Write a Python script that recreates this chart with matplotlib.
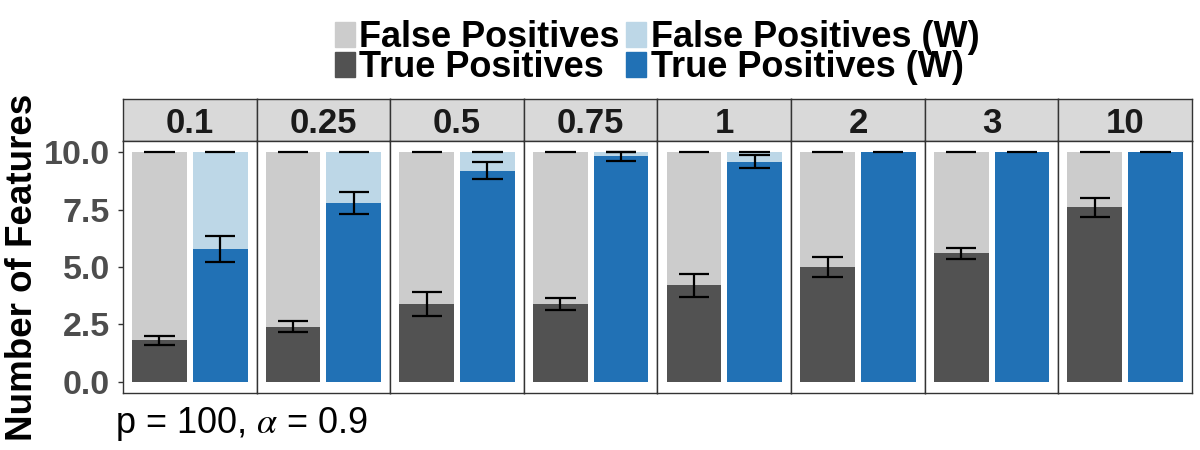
import numpy as np
import matplotlib
matplotlib.use("Agg")
import matplotlib.pyplot as plt
from matplotlib.patches import Patch

plt.rcParams["font.family"] = ["Liberation Sans", "DejaVu Sans"]
plt.rcParams["mathtext.fontset"] = "stix"

# weights (facets) and mean / sd of selected features out of 10
weights = ["0.1", "0.25", "0.5", "0.75", "1", "2", "3", "10"]
total = [10, 10, 10, 10, 10, 10, 10, 10]
tp = [1.8, 2.4, 3.4, 3.4, 4.2, 5.0, 5.6, 7.6]
tp_sd = [0.2, 0.25, 0.52, 0.26, 0.5, 0.45, 0.24, 0.4]
tp_w = [5.8, 7.8, 9.2, 9.83, 9.6, 10, 10, 10]
tp_w_sd = [0.57, 0.49, 0.37, 0.2, 0.27, 0, 0, 0]

col_fp = "#CCCCCC"
col_tp = "#525252"
col_fp_w = "#BDD7E7"
col_tp_w = "#2171B5"
edge = "#333333"

fig = plt.figure(figsize=(12, 4.5), dpi=100)
gs = fig.add_gridspec(2, len(weights), height_ratios=[42, 252],
                      left=123 / 1200, right=1192 / 1200,
                      top=1 - 99 / 450, bottom=1 - 393 / 450,
                      hspace=0, wspace=0)

for i, w in enumerate(weights):
    # strip on top
    sax = fig.add_subplot(gs[0, i])
    sax.set_facecolor("#D9D9D9")
    sax.set_xticks([])
    sax.set_yticks([])
    for s in sax.spines.values():
        s.set_color(edge)
        s.set_linewidth(1.0)
    sax.text(0.5, 0.42, w, transform=sax.transAxes, ha="center", va="center",
             fontsize=25, fontweight="bold", color="#1A1A1A")

    ax = fig.add_subplot(gs[1, i])
    x = np.array([1, 2])
    ax.bar(x[0], total[i], width=0.9, color=col_fp)
    ax.bar(x[0], tp[i], width=0.9, color=col_tp)
    ax.bar(x[1], total[i], width=0.9, color=col_fp_w)
    ax.bar(x[1], tp_w[i], width=0.9, color=col_tp_w)

    # error bars (total has zero spread)
    for xx, m, sd in [(x[0], tp[i], tp_sd[i]), (x[1], tp_w[i], tp_w_sd[i])]:
        ax.hlines(total[i], xx - 0.25, xx + 0.25, color="black", lw=1.6)
        if sd > 0:
            ax.hlines([m - sd, m + sd], xx - 0.25, xx + 0.25, color="black", lw=1.6)
            ax.vlines(xx, m - sd, m + sd, color="black", lw=1.6)

    ax.set_xlim(0.4, 2.6)
    ax.set_ylim(-0.5, 10.5)
    ax.set_xticks([])
    for s in ax.spines.values():
        s.set_color(edge)
        s.set_linewidth(1.0)
    if i == 0:
        ax.set_yticks([0, 2.5, 5, 7.5, 10])
        ax.set_yticklabels(["0.0", "2.5", "5.0", "7.5", "10.0"])
        ax.tick_params(axis="y", length=3.5, width=1, color=edge, pad=6,
                       labelsize=24.5, labelcolor="#4D4D4D")
        for lab in ax.get_yticklabels():
            lab.set_fontweight("bold")
    else:
        ax.set_yticks([])

fig.text(23 / 1200, 1 - 267 / 450, "Number of Features", rotation=90,
         ha="center", va="center", fontsize=26.5, fontweight="bold")
fig.text(115 / 1200, 1 - 433 / 450, r"p = 100, $\alpha$ = 0.9",
         ha="left", va="baseline", fontsize=26)

handles = [Patch(color=col_fp), Patch(color=col_tp),
           Patch(color=col_fp_w), Patch(color=col_tp_w)]
labels = ["False Positives", "True Positives",
          "False Positives (W)", "True Positives (W)"]
fig.legend(handles, labels, ncol=2, loc="upper center",
           bbox_to_anchor=(657 / 1200, 1 - 20 / 450), frameon=False,
           prop={"size": 26, "weight": "bold"},
           borderpad=0, borderaxespad=0,
           handlelength=0.55, handleheight=0.69, handletextpad=0.13,
           labelspacing=-0.14, columnspacing=0.17)

fig.savefig("out.png", dpi=100)
